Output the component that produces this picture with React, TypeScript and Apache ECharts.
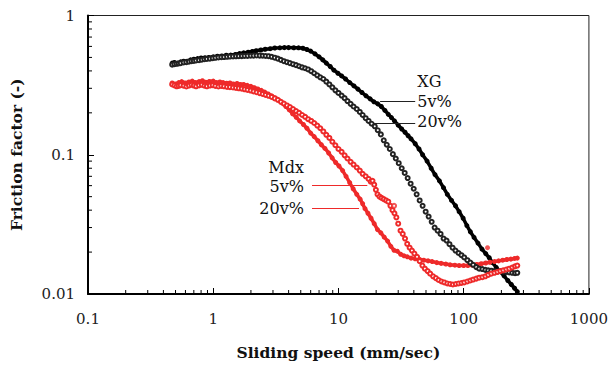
import React, { useEffect, useRef } from "react";
import * as echarts from "echarts";

// [sliding speed (mm/sec), friction factor]
const xg5: number[][] = [
  [0.47,0.455],[0.49,0.46],[0.52,0.455],[0.55,0.465],[0.58,0.47],[0.62,0.47],[0.66,0.48],[0.7,0.485],
  [0.75,0.49],[0.8,0.495],[0.86,0.498],[0.92,0.5],[1.0,0.505],[1.08,0.51],[1.17,0.512],[1.27,0.518],
  [1.38,0.52],[1.5,0.525],[1.62,0.533],[1.75,0.539],[1.9,0.545],[2.05,0.552],[2.2,0.558],[2.4,0.565],
  [2.6,0.572],[2.85,0.578],[3.1,0.584],[3.4,0.586],[3.7,0.588],[4.0,0.588],[4.4,0.587],[4.8,0.586],
  [5.2,0.582],[5.6,0.57],[6.0,0.555],[6.5,0.53],[7.0,0.505],[7.5,0.48],[8.0,0.455],[8.6,0.43],
  [9.2,0.405],[9.9,0.385],[10.6,0.368],[11.4,0.35],[12.3,0.33],[13.3,0.312],[14.3,0.296],[15.4,0.28],
  [16.6,0.265],[17.9,0.252],[19.2,0.24],[20.6,0.232],[22,0.222],[23.5,0.208],[25,0.195],[26.5,0.185],
  [28,0.175],[30,0.163],[32,0.153],[34,0.145],[36,0.137],[38,0.13],[41,0.12],[44,0.11],[47,0.1],
  [51,0.09],[55,0.08],[59,0.072],[64,0.065],[69,0.058],[74,0.052],[80,0.047],[86,0.043],[92,0.039],
  [99,0.035],[106,0.031],[113,0.028],[121,0.0255],[130,0.0232],[140,0.021],[150,0.0195],[160,0.0182],
  [170,0.0168],[182,0.0155],[195,0.0145],[210,0.0135],[225,0.0125],[240,0.0117],[255,0.011],[268,0.0104],
];

const xg20: number[][] = [
  [0.47,0.443],[0.49,0.447],[0.51,0.45],[0.53,0.452],[0.55,0.455],[0.58,0.46],[0.61,0.462],[0.64,0.466],
  [0.67,0.47],[0.7,0.472],[0.73,0.475],[0.77,0.478],[0.81,0.481],[0.85,0.485],[0.89,0.488],[0.94,0.49],
  [0.99,0.494],[1.04,0.497],[1.1,0.5],[1.16,0.502],[1.22,0.503],[1.29,0.505],[1.36,0.507],[1.44,0.508],
  [1.52,0.509],[1.6,0.51],[1.69,0.511],[1.78,0.512],[1.88,0.513],[1.99,0.514],[2.1,0.515],[2.22,0.516],
  [2.35,0.515],[2.48,0.514],[2.62,0.512],[2.77,0.51],[2.93,0.505],[3.1,0.498],[3.28,0.49],[3.47,0.48],
  [3.67,0.47],[3.88,0.462],[4.1,0.455],[4.34,0.447],[4.59,0.44],[4.85,0.432],[5.13,0.424],[5.42,0.418],
  [5.73,0.41],[6.06,0.398],[6.4,0.385],[6.77,0.372],[7.16,0.36],[7.57,0.35],[8.0,0.335],[8.46,0.32],
  [8.94,0.305],[9.45,0.29],[10.0,0.278],[10.6,0.266],[11.2,0.255],[11.8,0.243],[12.5,0.232],[13.2,0.222],
  [14.0,0.213],[14.8,0.203],[15.6,0.193],[16.5,0.183],[17.4,0.175],[18.4,0.167],[19.5,0.16],[20.6,0.15],
  [21.8,0.14],[23.0,0.127],[24.3,0.118],[25.7,0.11],[27.2,0.101],[28.7,0.094],[30.3,0.087],[32.0,0.08],
  [33.8,0.074],[35.7,0.068],[37.7,0.062],[39.9,0.057],[42.1,0.052],[44.5,0.047],[47,0.043],[49.7,0.039],
  [52.5,0.036],[55.5,0.033],[58.6,0.03],[61.9,0.0285],[65.4,0.027],[69.1,0.025],[73,0.0242],[77,0.0228],
  [81.5,0.0215],[86,0.0205],[91,0.0197],[96,0.019],[101,0.0183],[107,0.0175],[113,0.0168],[119,0.0162],
  [126,0.0156],[133,0.0152],[141,0.0151],[149,0.0149],[157,0.0148],[166,0.0147],[176,0.0146],[186,0.0145],
  [196,0.0146],[207,0.0145],[219,0.0144],[231,0.0143],[244,0.0142],[257,0.0141],[268,0.0142],
];

const mdx5: number[][] = [
  [0.47,0.32],[0.49,0.315],[0.51,0.31],[0.53,0.312],[0.55,0.316],[0.58,0.313],[0.61,0.309],[0.64,0.314],
  [0.67,0.318],[0.7,0.314],[0.73,0.31],[0.77,0.315],[0.81,0.318],[0.85,0.313],[0.89,0.31],[0.94,0.314],
  [0.99,0.316],[1.04,0.312],[1.1,0.309],[1.16,0.312],[1.22,0.31],[1.29,0.307],[1.36,0.306],[1.44,0.304],
  [1.52,0.302],[1.6,0.3],[1.69,0.298],[1.78,0.295],[1.88,0.292],[1.99,0.289],[2.1,0.285],[2.22,0.281],
  [2.35,0.277],[2.48,0.273],[2.62,0.269],[2.77,0.265],[2.93,0.26],[3.1,0.254],[3.28,0.248],[3.47,0.24],
  [3.67,0.233],[3.88,0.226],[4.1,0.22],[4.34,0.213],[4.59,0.206],[4.85,0.2],[5.13,0.193],[5.42,0.187],
  [5.73,0.18],[6.06,0.175],[6.4,0.169],[6.77,0.162],[7.16,0.155],[7.57,0.147],[8.0,0.139],[8.46,0.132],
  [8.94,0.124],[9.45,0.117],[10.0,0.11],[10.6,0.105],[11.2,0.099],[11.8,0.094],[12.5,0.089],[13.2,0.085],
  [14.0,0.081],[14.8,0.077],[15.6,0.073],[16.5,0.07],[17.4,0.067],[18.1,0.064],[18.7,0.065],[19.3,0.061],
  [19.9,0.056],[20.5,0.052],[21.3,0.05],[22.1,0.049],[23,0.048],[24,0.047],[25,0.046],[26,0.043],
  [27,0.04],[28,0.038],[29,0.0355],[30,0.032],[31.3,0.0285],[32.6,0.027],[34,0.025],[35.4,0.0229],
  [37,0.0215],[38.6,0.0205],[40.4,0.0195],[42.4,0.0185],[44.5,0.0172],[46.8,0.016],[49,0.0152],[51.5,0.0146],
  [54,0.014],[57,0.0134],[60,0.013],[63,0.0126],[66.5,0.0123],[70,0.0121],[74,0.0119],[78,0.0118],
  [82,0.0117],[86.5,0.0118],[91,0.0119],[96,0.012],[101,0.0121],[107,0.0123],[113,0.0125],[119,0.0127],
  [126,0.0129],[133,0.0131],[141,0.0132],[149,0.0134],[157,0.0137],[166,0.014],[176,0.0142],[186,0.0144],
  [196,0.0146],[207,0.0148],[219,0.015],[231,0.0152],[244,0.0155],[257,0.0158],[268,0.016],
];
const mdx5Outliers: number[][] = [[27.8,0.043]];

const mdx20: number[][] = [
  [0.47,0.328],[0.5,0.322],[0.53,0.33],[0.56,0.335],[0.6,0.328],[0.64,0.333],[0.68,0.338],[0.72,0.33],
  [0.77,0.335],[0.82,0.34],[0.87,0.332],[0.93,0.336],[1.0,0.338],[1.06,0.33],[1.13,0.333],[1.2,0.33],
  [1.28,0.326],[1.36,0.328],[1.45,0.322],[1.55,0.325],[1.65,0.32],[1.75,0.32],[1.87,0.315],[2.0,0.31],
  [2.13,0.303],[2.27,0.297],[2.42,0.29],[2.58,0.282],[2.75,0.273],[2.93,0.265],[3.13,0.256],[3.34,0.246],
  [3.56,0.235],[3.8,0.222],[4.05,0.21],[4.3,0.197],[4.6,0.186],[4.9,0.175],[5.25,0.165],[5.6,0.155],
  [6.0,0.143],[6.4,0.135],[6.85,0.126],[7.3,0.118],[7.8,0.111],[8.35,0.103],[8.9,0.095],[9.5,0.088],
  [10.1,0.083],[10.8,0.077],[11.5,0.07],[12.3,0.063],[13.1,0.057],[14,0.052],[14.9,0.048],[15.6,0.0445],
  [16.3,0.041],[17.2,0.038],[18.2,0.035],[19.3,0.032],[20.5,0.029],[21.8,0.0275],[23.2,0.0256],[24.7,0.024],
  [26.2,0.022],[27.8,0.0206],[29.5,0.0203],[31.4,0.0193],[33.4,0.0188],[35.5,0.0185],[38,0.0181],[41,0.0179],
  [44.5,0.0177],[48,0.0175],[52,0.0173],[56,0.0171],[61,0.0168],[66,0.0166],[72,0.0164],[78,0.0162],
  [85,0.0161],[92,0.016],[100,0.016],[108,0.016],[117,0.0161],[127,0.0163],[138,0.0165],[150,0.0167],
  [162,0.0169],[176,0.0171],[190,0.0173],[205,0.0175],[221,0.0177],[238,0.0178],[255,0.018],[268,0.0181],
];
const mdx20Outliers: number[][] = [[155,0.0215]];

const xTickLabels = ["0.1", "1", "10", "100", "1000"];
const yTickLabels = ["0.01", "0.1", "1"];
const minorX = [0.2,0.3,0.4,0.5,0.6,0.7,0.8,0.9,2,3,4,5,6,7,8,9,20,30,40,50,60,70,80,90,200,300,400,500,600,700,800,900];
const minorY = [0.02,0.03,0.04,0.05,0.06,0.07,0.08,0.09,0.2,0.3,0.4,0.5,0.6,0.7,0.8,0.9];

// annotations: [from, to] in data coords
const xgArrows = [
  [[41, 0.241], [21.5, 0.241]],
  [[41, 0.169], [19.2, 0.169]],
];
const mdxArrows = [
  [[6.15, 0.06], [17.0, 0.06]],
  [[6.15, 0.0416], [14.6, 0.0416]],
];
const xgTexts = [["XG", 42.6, 0.335], ["5v%", 42.6, 0.24], ["20v%", 42.6, 0.172]];
const mdxTexts = [["Mdx", 5.3, 0.081], ["5v%", 5.3, 0.059], ["20v%", 5.3, 0.041]];

const RED = "#ee2a2a";
const FONT = "DejaVu Serif";

export default function App() {
  const ref = useRef<HTMLDivElement>(null);
  useEffect(() => {
    const chart = echarts.init(ref.current!, null, { renderer: "svg" });
    const arrowLine = (pairs: number[][][], color: string) => ({
      silent: true,
      symbol: ["none", "arrow"],
      symbolSize: [0, 7],
      label: { show: false },
      lineStyle: { color, width: 1, type: "solid" },
      emphasis: { disabled: true },
      data: pairs.map((p) => [{ coord: p[0] }, { coord: p[1] }]),
    });
    const fmt = (labels: string[]) => (v: number) =>
      labels.find((t) => Math.abs(parseFloat(t) - v) / v < 1e-6) || "";
    const axisCommon = {
      axisLine: { show: true, lineStyle: { color: "#000", width: 2 } },
      axisTick: { show: true, inside: true, length: 6, lineStyle: { color: "#000", width: 1 } },
      splitLine: { show: false },
      nameTextStyle: { fontFamily: FONT, fontWeight: "bold", fontSize: 15.5, color: "#111" },
    };
    const openStyle = (color: string) => ({ color, borderColor: color, borderWidth: 1 });
    const option: any = {
      animation: false,
      grid: {
        left: 82.5, right: 19.7, top: 15.5, bottom: 67.5,
        show: true, borderColor: "#222", borderWidth: 1, backgroundColor: "transparent",
      },
      xAxis: {
        ...axisCommon,
        type: "log", logBase: 10, min: 0.1, max: 1000,
        name: "Sliding speed (mm/sec)", nameLocation: "middle", nameGap: 50,
        axisLabel: { formatter: fmt(xTickLabels), fontFamily: FONT, fontSize: 15, color: "#222", margin: 17 },
      },
      yAxis: {
        ...axisCommon,
        type: "log", logBase: 10, min: 0.01, max: 1,
        name: "Friction factor (-)", nameLocation: "middle", nameGap: 64,
        axisLabel: { formatter: fmt(yTickLabels), fontFamily: FONT, fontSize: 15, color: "#222", margin: 13 },
      },
      series: [
        {
          name: "XG 5v%", type: "line", data: xg5, symbol: "circle", symbolSize: 5,
          showAllSymbol: true, itemStyle: { color: "#000" },
          lineStyle: { color: "#000", width: 3.5 }, z: 3,
          markLine: arrowLine(xgArrows, "#222"),
        },
        {
          name: "XG 20v%", type: "line", data: xg20, symbol: "emptyCircle", symbolSize: 4,
          showAllSymbol: true, itemStyle: openStyle("#222"),
          lineStyle: { width: 0, opacity: 0 }, z: 4,
        },
        {
          name: "Mdx 5v%", type: "line", data: mdx5, symbol: "emptyCircle", symbolSize: 4,
          showAllSymbol: true, itemStyle: openStyle(RED),
          lineStyle: { width: 0, opacity: 0 }, z: 4,
          markLine: arrowLine(mdxArrows, RED),
        },
        {
          name: "Mdx 5v% extra", type: "scatter", data: mdx5Outliers, symbol: "emptyCircle", symbolSize: 4,
          itemStyle: openStyle(RED), z: 4,
        },
        {
          name: "Mdx 20v%", type: "line", data: mdx20, symbol: "circle", symbolSize: 5,
          showAllSymbol: true, itemStyle: { color: RED },
          lineStyle: { color: RED, width: 3.5 }, z: 3,
        },
        {
          name: "Mdx 20v% extra", type: "scatter", data: mdx20Outliers, symbol: "circle", symbolSize: 5,
          itemStyle: { color: RED }, z: 3,
        },
        {
          type: "custom", clip: false, silent: true, z: 10,
          data: minorX.map((v) => [v, 0.01]),
          renderItem: (params: any, api: any) => {
            const p = api.coord([api.value(0), api.value(1)]);
            return { type: "line", shape: { x1: p[0], y1: p[1], x2: p[0], y2: p[1] - 4 }, style: { stroke: "#000", lineWidth: 1 } };
          },
        },
        {
          type: "custom", clip: false, silent: true, z: 10,
          data: minorY.map((v) => [0.1, v]),
          renderItem: (params: any, api: any) => {
            const p = api.coord([api.value(0), api.value(1)]);
            return { type: "line", shape: { x1: p[0], y1: p[1], x2: p[0] + 4, y2: p[1] }, style: { stroke: "#000", lineWidth: 1 } };
          },
        },
      ],
    };
    chart.setOption(option);
    const mk = (items: any[], align: string) =>
      items.map((t) => {
        const p = chart.convertToPixel({ gridIndex: 0 }, [t[1], t[2]]);
        return {
          type: "text", x: p[0], y: p[1], silent: true,
          style: { text: t[0], fontFamily: FONT, fontSize: 16, fill: "#111", align, verticalAlign: "middle" },
        };
      });
    chart.setOption({ graphic: [...mk(xgTexts, "left"), ...mk(mdxTexts, "right")] });
    return () => chart.dispose();
  }, []);
  return <div ref={ref} style={{ position: "fixed", left: 0, top: 0, width: 611, height: 365, background: "#fff" }} />;
}
